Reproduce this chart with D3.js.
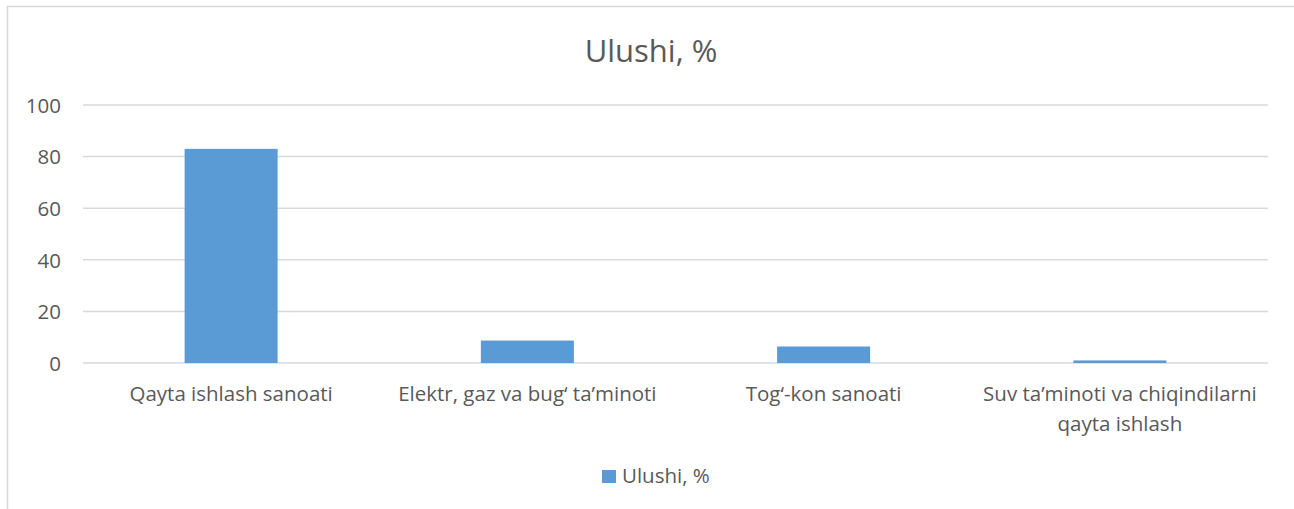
<!DOCTYPE html>
<html>
<head>
<meta charset="utf-8">
<script src="https://cdn.jsdelivr.net/npm/d3@7"></script>
<style>
  body { margin: 0; background: #fff; }
  text { font-family: "Open Sans", sans-serif; fill: #595959; }
</style>
</head>
<body>
<svg id="chart" width="1294" height="509"></svg>
<script>
const categories = [
    ["Qayta ishlash sanoati"],
    ["Elektr, gaz va bug\u2018 ta\u2019minoti"],
    ["Tog\u2018-kon sanoati"],
    ["Suv ta\u2019minoti va chiqindilarni", "qayta ishlash"]
];
const values = [83, 8.7, 6.4, 1.0];
const yTicks = [0, 20, 40, 60, 80, 100];
const seriesName = "Ulushi, %";

const plotMargin = {top: 105, left: 83},
      plotWidth = 1268 - 83,
      plotHeight = 363 - 105;

const svg = d3.select("#chart");

// chart frame
svg.append("rect")
    .attr("x", 7.5)
    .attr("y", 6.5)
    .attr("width", 1300)
    .attr("height", 520)
    .attr("fill", "none")
    .attr("stroke", "#d9d9d9")
    .attr("stroke-width", 1.5);

svg.append("text")
    .attr("x", 651)
    .attr("y", 62)
    .attr("text-anchor", "middle")
    .style("font-size", "31px")
    .text(seriesName);

const context = svg.append("g")
    .attr("transform", "translate(" + plotMargin.left + "," + plotMargin.top + ")");

const xScale = d3.scaleBand()
    .domain(d3.range(categories.length))
    .range([0, plotWidth])
    .paddingInner(0.686)
    .paddingOuter(0.343);

const yScale = d3.scaleLinear()
    .domain([0, 100])
    .range([plotHeight, 0]);

// gridlines
context.append("g")
    .selectAll("line")
    .data(yTicks)
    .join("line")
    .attr("x1", 0)
    .attr("x2", plotWidth)
    .attr("y1", d => yScale(d))
    .attr("y2", d => yScale(d))
    .attr("stroke", "#d9d9d9")
    .attr("stroke-width", 1.5);

const yAxis = context.append("g")
    .call(d3.axisLeft(yScale).tickValues(yTicks).tickSize(0).tickPadding(22));
yAxis.select(".domain").remove();
yAxis.selectAll("text")
    .style("font-size", "20.5px")
    .attr("fill", "#595959")
    .attr("dy", "0.36em")
    .style("font-family", "'Open Sans', sans-serif");

context.append("g")
    .selectAll("rect")
    .data(values)
    .join("rect")
    .attr("x", (d, i) => xScale(i))
    .attr("width", xScale.bandwidth())
    .attr("y", d => yScale(d))
    .attr("height", d => plotHeight - yScale(d))
    .attr("fill", "#5b9bd5");

// category labels
const categoryStep = plotWidth / categories.length;
context.append("g")
    .selectAll("text")
    .data(categories)
    .join("text")
    .attr("text-anchor", "middle")
    .attr("transform", (d, i) => "translate(" + (categoryStep * (i + 0.5)) + "," + (plotHeight + 38) + ")")
    .style("font-size", "20.5px")
    .each(function (lines) {
        d3.select(this).selectAll("tspan")
            .data(lines)
            .join("tspan")
            .attr("x", 0)
            .attr("dy", (d, j) => j === 0 ? 0 : 30)
            .text(d => d);
    });

// legend
const legend = svg.append("g").attr("transform", "translate(602,470)");
legend.append("rect")
    .attr("width", 14)
    .attr("height", 13)
    .attr("fill", "#5b9bd5");
legend.append("text")
    .attr("x", 20)
    .attr("y", 13)
    .style("font-size", "20.5px")
    .text(seriesName);
</script>
</body>
</html>
